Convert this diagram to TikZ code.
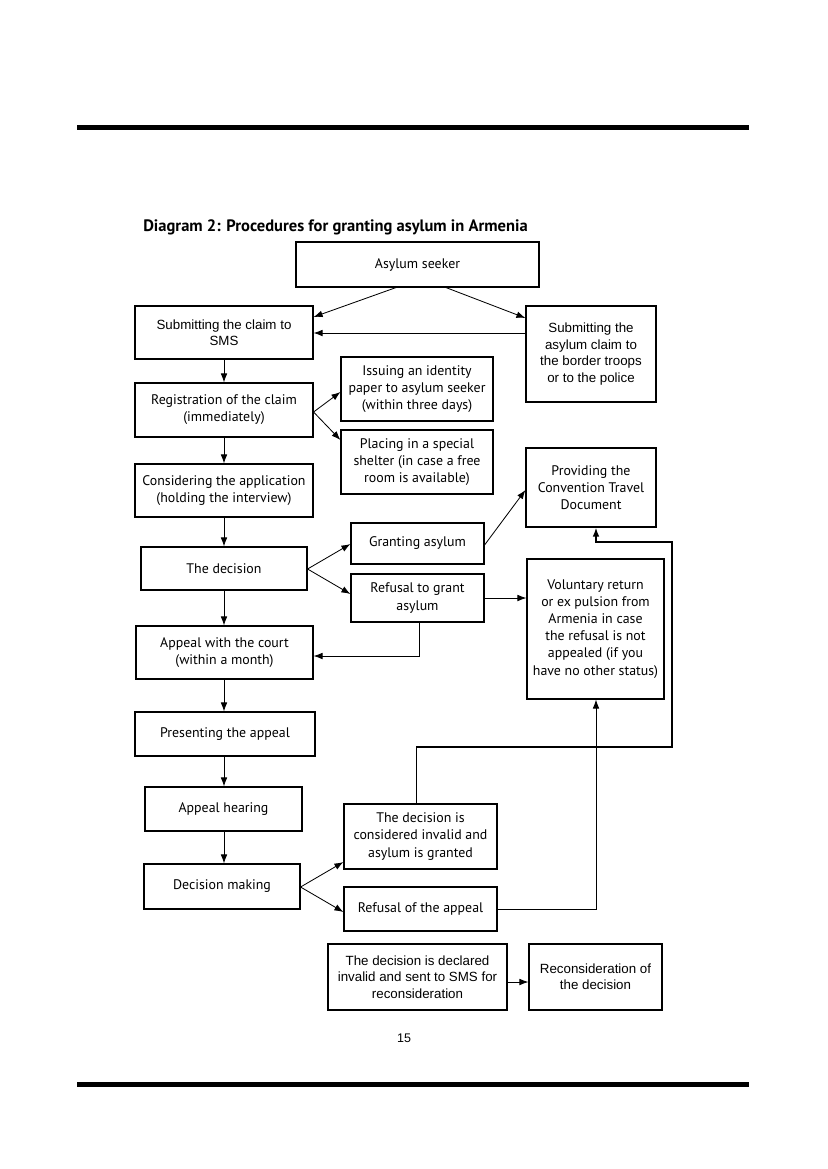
\documentclass[tikz,border=0pt]{standalone}
\usepackage{fontspec}
\setmainfont{PT Sans}
\newfontfamily\arialf{Liberation Sans}
\usetikzlibrary{arrows.meta,calc}
\newcommand\bx[7][box]{\node[#1,minimum width={(#5-#3)*0.72pt},minimum height={(#6-#4)*0.72pt}] (#2) at ({(#3+#5)/2},{(#4+#6)/2}) {#7};}
\begin{document}
\begin{tikzpicture}[x=0.72pt,y=-0.72pt,
  box/.style={draw,line width=0.8pt,inner sep=0pt,align=center,font=\fontsize{10}{12.3}\selectfont},
  abox/.style={box,font=\arialf\fontsize{9.6}{11.8}\selectfont},
  arr/.style={-{Latex[length=6.5pt,width=4.8pt]},line width=0.6pt},
  ln/.style={line width=0.6pt},
  thick line/.style={line width=1.1pt},
  rule/.style={fill=black,draw=none}]
\useasboundingbox (0,0) rectangle (827,1169);
% rules
\path[rule] (77,125) rectangle (749,129.5);
\path[rule] (77,1082) rectangle (749,1086.5);
% title
\node[anchor=base west,inner sep=0pt,font=\bfseries\fontsize{11.9}{14}\selectfont] (title) at (143,231) {Diagram 2: Procedures for granting asylum in Armenia};
% boxes
\bx{as}{296}{242}{539}{287}{Asylum seeker}
\bx[abox]{sms}{135}{306}{313}{359}{Submitting the claim to\\SMS}
\bx[abox]{bt}{526}{306}{656}{402}{Submitting the\\asylum claim to\\the border troops\\or to the police}
\bx{iss}{341}{357}{493}{421}{Issuing an identity\\paper to asylum seeker\\(within three days)}
\bx{reg}{135}{383}{313}{437}{Registration of the claim\\(immediately)}
\bx{pl}{341}{430}{493}{494}{Placing in a special\\shelter (in case a free\\room is available)}
\bx{cons}{135}{464}{313}{517}{Considering the application\\(holding the interview)}
\bx{ctd}{526}{448}{656}{527}{Providing the\\Convention Travel\\Document}
\bx{ga}{351}{523}{484}{564}{Granting asylum}
\bx{dec}{141}{547}{307}{590}{The decision}
\bx{rg}{351}{574}{484}{622}{Refusal to grant\\asylum}
\bx{vr}{527}{559}{664}{699}{Voluntary return\\or ex\hspace{2.5pt}pulsion from\\Armenia in case\\the refusal is not\\appealed (if you\\have no other status)}
\bx{ac}{136}{626}{313}{679}{Appeal with the court\\(within a month)}
\bx{pres}{135}{712}{315}{756}{Presenting the appeal}
\bx{ah}{145}{787}{302}{831}{Appeal hearing}
\bx{inv}{344}{804}{497}{869}{The decision is\\considered invalid and\\asylum is granted}
\bx{dm}{144}{864}{300}{909}{Decision making}
\bx{ra}{344}{887}{497}{931}{Refusal of the appeal}
\bx[abox]{di}{328}{944}{507}{1010}{The decision is declared\\invalid and sent to SMS for\\reconsideration}
\bx[abox]{rc}{529}{944}{662}{1010}{Reconsideration of\\the decision}
% page number
\node[font=\arialf\fontsize{9}{11}\selectfont,inner sep=0pt] (pg) at (404,1038) {15};
% connectors
\draw[arr] (as.south -| 396,0) -- (sms.east |- 0,317);
\draw[arr] (as.south -| 446,0) -- (bt.west |- 0,318);
\draw[arr] (bt.west |- 0,333) -- (sms.east |- 0,333);
\draw[arr] (sms.south -| 224,0) -- (reg.north -| 224,0);
\draw[arr] (reg.east |- 0,412) -- (iss.west |- 0,392);
\draw[arr] (reg.east |- 0,412) -- (pl.west |- 0,440);
\draw[arr] (reg.south -| 224,0) -- (cons.north -| 224,0);
\draw[arr] (cons.south -| 224,0) -- (dec.north -| 224,0);
\draw[arr] (dec.east |- 0,569) -- (ga.west |- 0,544);
\draw[arr] (dec.east |- 0,569) -- (rg.west |- 0,594);
\draw[arr] (ga.east |- 0,545) -- (ctd.west |- 0,490);
\draw[arr] (rg.east |- 0,598) -- (vr.west |- 0,598);
\draw[arr] (rg.south -| 419,0) |- (ac.east |- 0,656);
\draw[arr] (dec.south -| 224,0) -- (ac.north -| 224,0);
\draw[arr] (ac.south -| 224,0) -- (pres.north -| 224,0);
\draw[arr] (pres.south -| 224,0) -- (ah.north -| 224,0);
\draw[arr] (ah.south -| 224,0) -- (dm.north -| 224,0);
\draw[arr] (dm.east |- 0,887) -- (inv.west |- 0,862);
\draw[arr] (dm.east |- 0,887) -- (ra.west |- 0,912);
\draw[arr] (ra.east |- 0,909) -| (vr.south -| 596,0);
\coordinate (b1) at (416,747);
\coordinate (b2) at (672,747);
\coordinate (b3) at (672,542);
\coordinate (b4) at (596,542);
\draw[ln] (inv.north -| 416,0) -- (b1);
\draw[arr,thick line] (b1) -- (b2) -- (b3) -- (b4) -- (ctd.south -| 596,0);
\draw[arr] (di.east |- 0,982) -- (rc.west |- 0,982);
\end{tikzpicture}
\end{document}
